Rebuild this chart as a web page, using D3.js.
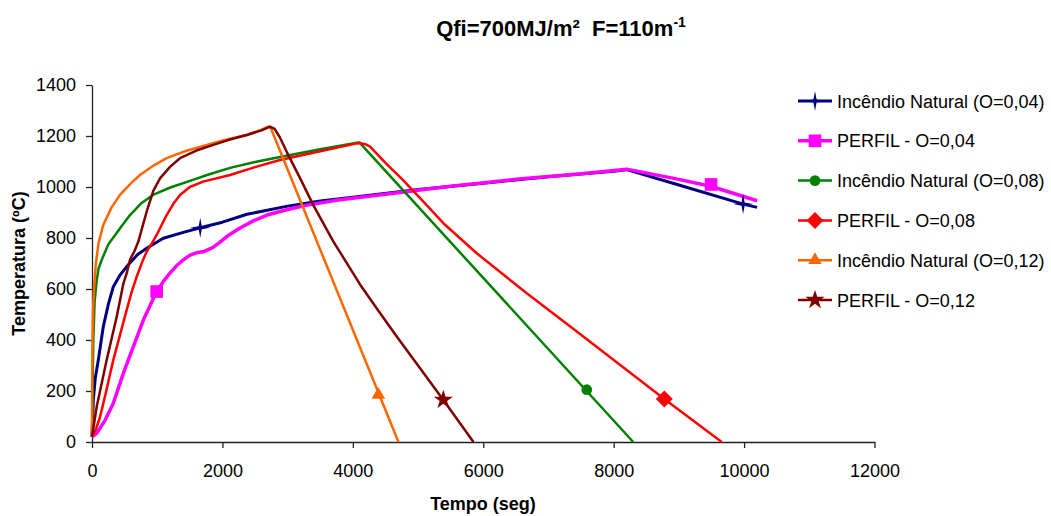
<!DOCTYPE html>
<meta charset="utf-8">
<script src="https://d3js.org/d3.v7.min.js"></script>
<style>
  body { margin: 0; background: #fff; }
  text { font-family: Arial, "Liberation Sans", sans-serif; }
</style>
<svg id="chart" width="1051" height="516"></svg>
<script>

// Incendio Natural (O=0,04)
var t1 = [0, 20, 50, 97, 173, 250, 327, 430, 532, 700, 838, 1094, 1400, 1660, 2000, 2377, 3000, 3500, 4000, 5000, 6000, 7000, 8000, 8200, 9000, 10000, 10200];
var v1 = [20, 165, 250, 322, 452, 540, 609, 655, 688, 735, 760, 799, 822, 840, 862, 893, 925, 945, 960, 990, 1015, 1040, 1062, 1068, 1008, 932, 920];

// PERFIL - O=0,04
var t2 = [0, 72, 200, 327, 480, 634, 787, 992, 1100, 1196, 1300, 1400, 1503, 1600, 1703, 1850, 1963, 2100, 2270, 2480, 2684, 3000, 3298, 3800, 4500, 5500, 6500, 7500, 8200, 9000, 9500, 10200];
var v2 = [20, 34, 85, 152, 269, 374, 478, 590, 632, 662, 692, 714, 733, 742, 746, 762, 784, 812, 839, 868, 890, 912, 929, 950, 972, 1003, 1030, 1052, 1070, 1030, 1002, 946];

// Incendio Natural (O=0,08)
var t3 = [0, 8, 20, 40, 70, 100, 150, 250, 322, 450, 583, 750, 936, 1200, 1457, 1800, 2117, 2500, 2883, 3500, 4064, 4100, 8300];
var v3 = [20, 200, 400, 550, 630, 680, 715, 775, 800, 845, 890, 935, 969, 998, 1020, 1050, 1075, 1098, 1118, 1148, 1174, 1175, 0];

// PERFIL - O=0,08
var t4 = [0, 60, 123, 200, 327, 430, 532, 610, 685, 782, 838, 920, 992, 1070, 1145, 1250, 1350, 1500, 1703, 2117, 2500, 2883, 3500, 4059, 4120, 4190, 4264, 4500, 4770, 5100, 5388, 5900, 6667, 7434, 8200, 8777, 9657];
var v4 = [20, 50, 98, 180, 322, 420, 518, 590, 648, 714, 746, 780, 812, 852, 890, 935, 969, 1000, 1021, 1047, 1078, 1106, 1140, 1171, 1172, 1168, 1158, 1095, 1027, 938, 858, 740, 583, 433, 282, 169, 0];

// Incendio Natural (O=0,12)
var t5 = [0, 5, 15, 30, 60, 100, 173, 300, 429, 600, 736, 950, 1145, 1450, 1759, 2050, 2373, 2600, 2704, 2740, 4700];
var v5 = [20, 350, 506, 600, 700, 780, 851, 920, 969, 1015, 1047, 1085, 1113, 1142, 1165, 1185, 1204, 1225, 1237, 1232, 0];

// PERFIL - O=0,12
var t6 = [0, 72, 225, 379, 480, 532, 583, 650, 711, 780, 838, 940, 1043, 1200, 1350, 1600, 1861, 2100, 2373, 2600, 2730, 2800, 2880, 2986, 3200, 3394, 3700, 4008, 4110, 4400, 4673, 5000, 5388, 5850];
var v6 = [20, 138, 322, 491, 620, 662, 715, 748, 786, 850, 903, 985, 1034, 1080, 1113, 1143, 1165, 1185, 1204, 1222, 1237, 1228, 1195, 1138, 1030, 929, 787, 660, 618, 512, 414, 300, 165, 0];

// marker positions
var m1t = [1660, 9985], m1v = [840, 933];
var m2t = [992, 9494], m2v = [590, 1010];
var m3t = [7587], m3v = [205];
var m4t = [8777], m4v = [169];
var m5t = [4391], m5v = [185];
var m6t = [5388], m6v = [165];

var names = ["Incêndio Natural (O=0,04)", "PERFIL - O=0,04", "Incêndio Natural (O=0,08)",
             "PERFIL - O=0,08", "Incêndio Natural (O=0,12)", "PERFIL - O=0,12"];
var colors = ["#000080", "#ff00ff", "#008000", "#ff0000", "#ff6600", "#800000"];
var symbols = ["star4", "square", "circle", "diamond", "triangle", "star"];

var xTicks = [0, 2000, 4000, 6000, 8000, 10000, 12000];
var yTicks = [0, 200, 400, 600, 800, 1000, 1200, 1400];

var series = [
  {t: t1, v: v1, mt: m1t, mv: m1v, w: 3},
  {t: t2, v: v2, mt: m2t, mv: m2v, w: 3.5},
  {t: t3, v: v3, mt: m3t, mv: m3v, w: 2.5},
  {t: t4, v: v4, mt: m4t, mv: m4v, w: 2.5},
  {t: t5, v: v5, mt: m5t, mv: m5v, w: 2.5},
  {t: t6, v: v6, mt: m6t, mv: m6v, w: 2.5}
];

var svg = d3.select("#chart");

var x = d3.scaleLinear().domain([0, 12000]).range([92, 874.5]);
var y = d3.scaleLinear().domain([0, 1400]).range([442, 85]);

function markerPath(type) {
  if (type == "star4") {
    var p = [], R = 10, r = 2.2;
    for (var i = 0; i < 8; i++) {
      var a = i * Math.PI / 4 - Math.PI / 2, rr = i % 2 ? r : R;
      p.push([rr * Math.cos(a), rr * Math.sin(a)]);
    }
    return "M" + p.join("L") + "Z";
  }
  if (type == "diamond") return "M0,-8.5L8.5,0L0,8.5L-8.5,0Z";
  if (type == "square") return d3.symbol().type(d3.symbolSquare).size(160)();
  if (type == "circle") return d3.symbol().type(d3.symbolCircle).size(90)();
  if (type == "triangle") return d3.symbol().type(d3.symbolTriangle).size(80)();
  return d3.symbol().type(d3.symbolStar).size(115)();
}

// axes
var xAxis = svg.append("g")
  .attr("transform", "translate(0,442)")
  .call(d3.axisBottom(x).tickValues(xTicks).tickFormat(d3.format("d"))
    .tickSize(6).tickSizeOuter(0).tickPadding(16));
var yAxis = svg.append("g")
  .attr("transform", "translate(92,0)")
  .call(d3.axisLeft(y).tickValues(yTicks).tickFormat(d3.format("d"))
    .tickSize(6).tickSizeOuter(0).tickPadding(10));

[xAxis, yAxis].forEach(function(g) {
  g.selectAll("path, line").attr("stroke", "#222").attr("stroke-width", 1.3);
  g.selectAll("text").attr("font-size", 18).attr("fill", "#000")
    .style("font-family", "Arial, 'Liberation Sans', sans-serif");
});

// lines
var line = d3.line()
  .x(function(d) { return x(d[0]); })
  .y(function(d) { return y(d[1]); });

series.forEach(function(s, i) {
  var pts = s.t.map(function(tt, k) { return [tt, s.v[k]]; });
  svg.append("path")
    .attr("d", line(pts))
    .attr("fill", "none")
    .attr("stroke", colors[i])
    .attr("stroke-width", s.w)
    .attr("stroke-linejoin", "round");
});

series.forEach(function(s, i) {
  s.mt.forEach(function(tt, k) {
    svg.append("path")
      .attr("d", markerPath(symbols[i]))
      .attr("transform", "translate(" + x(tt) + "," + y(s.mv[k]) + ")")
      .attr("fill", colors[i]);
  });
});

// legend
var legend = svg.append("g");
names.forEach(function(n, i) {
  var cy = 101 + i * 39.8;
  legend.append("line")
    .attr("x1", 798).attr("x2", 832).attr("y1", cy).attr("y2", cy)
    .attr("stroke", colors[i]).attr("stroke-width", series[i].w);
  legend.append("path")
    .attr("d", markerPath(symbols[i]))
    .attr("transform", "translate(815," + cy + ")")
    .attr("fill", colors[i]);
  legend.append("text")
    .attr("x", 837).attr("y", cy + 6.5)
    .attr("font-size", 18)
    .text(n);
});

// titles
var title = svg.append("text")
  .attr("x", 561).attr("y", 36)
  .attr("text-anchor", "middle")
  .attr("font-size", 22).attr("font-weight", "bold")
  .style("white-space", "pre");
title.append("tspan").text("Qfi=700MJ/m²  F=110m");
title.append("tspan").attr("dy", -9).attr("font-size", 14).text("-1");

svg.append("text")
  .attr("x", 483).attr("y", 510)
  .attr("text-anchor", "middle")
  .attr("font-size", 18).attr("font-weight", "bold")
  .text("Tempo (seg)");

svg.append("text")
  .attr("transform", "translate(25,263.5) rotate(-90)")
  .attr("text-anchor", "middle")
  .attr("font-size", 18).attr("font-weight", "bold")
  .text("Temperatura (ºC)");

</script>
